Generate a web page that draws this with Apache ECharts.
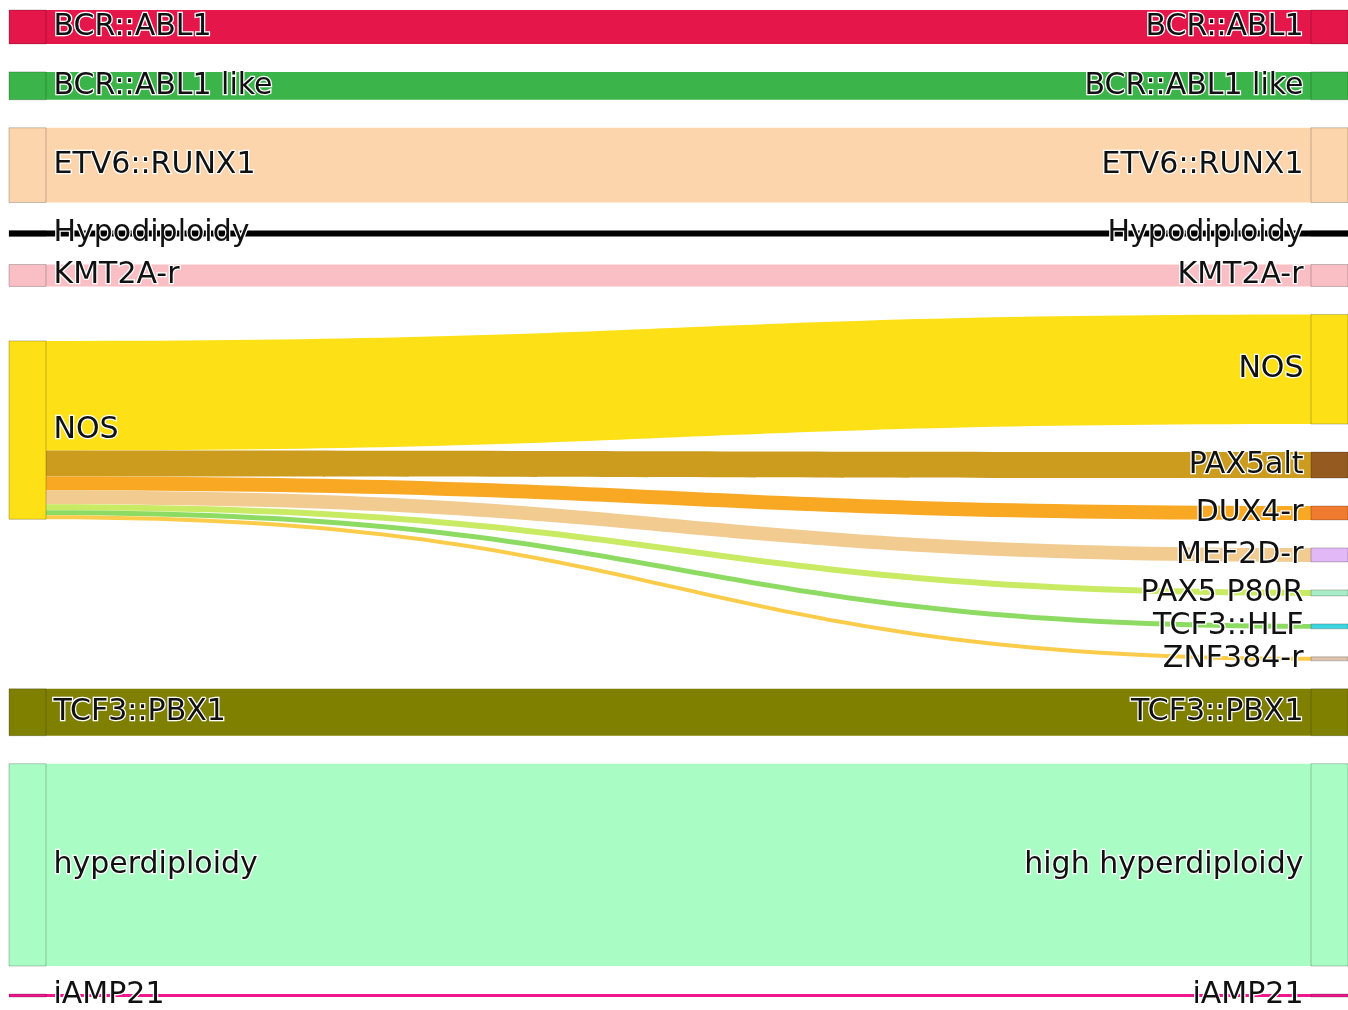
<!DOCTYPE html>
<html>
<head>
<meta charset="utf-8">
<title>subtype sankey</title>
<script src="https://cdn.jsdelivr.net/npm/echarts@6/dist/echarts.min.js"></script>
<style>
  html, body { margin: 0; padding: 0; background: #fff; }
  #chart { width: 1348px; height: 1010px; }
</style>
</head>
<body>
<div id="chart"></div>
<script type="text/javascript">
// left column (original classification)
var leftNodes = ['BCR::ABL1', 'BCR::ABL1 like', 'ETV6::RUNX1', 'Hypodiploidy', 'KMT2A-r',
  'NOS', 'TCF3::PBX1', 'hyperdiploidy', 'iAMP21'];
// right column (revised classification)
var rightNodes = ['BCR::ABL1', 'BCR::ABL1 like', 'ETV6::RUNX1', 'Hypodiploidy', 'KMT2A-r',
  'NOS', 'PAX5alt', 'DUX4-r', 'MEF2D-r', 'PAX5 P80R', 'TCF3::HLF', 'ZNF384-r',
  'TCF3::PBX1', 'high hyperdiploidy', 'iAMP21'];

// flows: left node -> right node, with counts
var flowSource = ['BCR::ABL1', 'BCR::ABL1 like', 'ETV6::RUNX1', 'Hypodiploidy', 'KMT2A-r',
  'NOS', 'NOS', 'NOS', 'NOS', 'NOS', 'NOS', 'NOS',
  'TCF3::PBX1', 'hyperdiploidy', 'iAMP21'];
var flowTarget = ['BCR::ABL1', 'BCR::ABL1 like', 'ETV6::RUNX1', 'Hypodiploidy', 'KMT2A-r',
  'NOS', 'PAX5alt', 'DUX4-r', 'MEF2D-r', 'PAX5 P80R', 'TCF3::HLF', 'ZNF384-r',
  'TCF3::PBX1', 'high hyperdiploidy', 'iAMP21'];
var flowValue = [34, 28, 75, 6, 22, 110, 26, 14, 14, 6, 5, 4, 47, 203, 3];

// colours
var leftColors = ['#E4164A', '#3BB54A', '#FDD5AC', '#000000', '#F9BFC4',
  '#FDE016', '#808000', '#AAFCC5', '#F0168C'];
var rightColors = ['#E4164A', '#3BB54A', '#FDD5AC', '#000000', '#F9BFC4',
  '#FDE016', '#955A1F', '#F07A2D', '#E2B8F7', '#A9EDC8', '#3FD4E0', '#DEC4AE',
  '#808000', '#AAFCC5', '#F0168C'];
var linkColors = ['#E4164A', '#3BB54A', '#FDD5AC', '#000000', '#F9BFC4',
  '#FDE016', '#CC9C1F', '#F9A823', '#F1CB8F', '#C9EA63', '#8EDB63', '#FBCB4A',
  '#808000', '#AAFCC5', '#F0168C'];

var nodes = [];
leftNodes.forEach(function (n, i) {
  nodes.push({
    name: 'L:' + n,
    depth: 0,
    itemStyle: { color: leftColors[i] },
    label: { position: 'right' }
  });
});
rightNodes.forEach(function (n, i) {
  nodes.push({
    name: 'R:' + n,
    depth: 1,
    itemStyle: { color: rightColors[i] },
    label: { position: 'left' }
  });
});

var links = flowValue.map(function (v, i) {
  return {
    source: 'L:' + flowSource[i],
    target: 'R:' + flowTarget[i],
    value: v,
    lineStyle: { color: linkColors[i] }
  };
});

var chart = echarts.init(document.getElementById('chart'));
chart.setOption({
  animation: false,
  series: [{
    type: 'sankey',
    left: 9,
    right: 0,
    top: 10,
    bottom: 13,
    nodeWidth: 37,
    nodeGap: 28,
    nodeAlign: 'justify',
    emphasis: { disabled: true },
    data: nodes,
    links: links,
    itemStyle: {
      borderColor: 'rgba(0,0,0,0.22)',
      borderWidth: 1
    },
    lineStyle: {
      opacity: 1,
      curveness: 0.5
    },
    label: {
      show: true,
      distance: 7,
      fontFamily: 'DejaVu Sans',
      fontSize: 30,
      color: '#111',
      textBorderColor: '#fff',
      textBorderWidth: 2.5,
      formatter: function (p) {
        return p.name.replace(/^[LR]:/, '');
      }
    }
  }]
});
</script>
</body>
</html>
